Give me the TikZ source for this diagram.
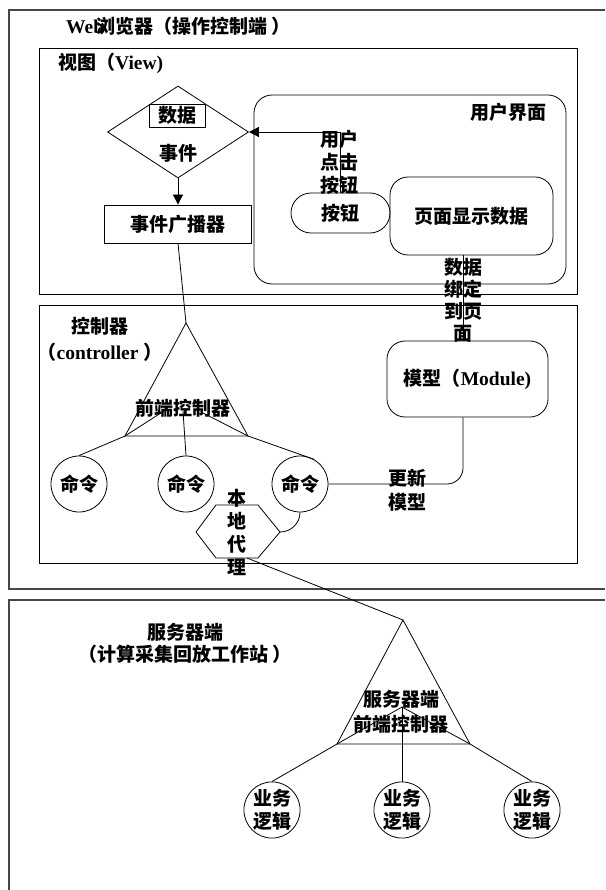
\documentclass[tikz,border=0pt]{standalone}
\usepackage{fontspec}
\newfontfamily\cjk{Noto Sans CJK SC}
\newfontfamily\lat{Liberation Serif}
\newcommand\latx[1]{{\lat\fontsize{19.5}{23}\selectfont #1}}
\usetikzlibrary{shapes.geometric,arrows.meta}
\begin{document}
\begin{tikzpicture}[x=1pt,y=-1pt,
 every node/.style={font=\cjk\bfseries\fontsize{19}{23}\selectfont, inner sep=0pt},
 ln/.style={draw=black, line width=0.8pt},
 outer/.style={draw=gray!55!black, line width=1.4pt},
 txt/.style={align=center},
 box/.style={draw, line width=0.8pt},
 rbox/.style={draw, line width=0.8pt, rounded corners=18pt},
 cmdc/.style={draw, circle, line width=0.8pt, minimum size=56pt},
 arr/.style={-{Triangle[length=10pt,width=10pt]}, line width=0.8pt}
]
\useasboundingbox (0,0) rectangle (605,890);
\fill[white] (0,0) rectangle (605,890);

% outer frames
\draw[outer] (605,10) -- (9,10) -- (9,589) -- (605,589);
\draw[outer] (605,600) -- (9,600) -- (9,890);
\node[anchor=west] (title) at (66,26) {\latx{Web}\kern-8pt 浏览器（操作控制端 ）};

% view
\node[box, minimum width=538pt, minimum height=246pt] (view) at (308,171) {};
\node[anchor=west] (viewlbl) at (58,63) {视图（\latx{View)}};
\node[rbox, minimum width=312pt, minimum height=189pt] (ui) at (410,189.5) {};
\node[anchor=east] (uilbl) at (547,112) {用户界面};
\node[rbox, rounded corners=20pt, minimum width=99pt, minimum height=40pt] (btn) at (340.5,213) {按钮};
\node[rbox, minimum width=163pt, minimum height=78pt] (page) at (471.5,216) {页面显示数据};

\node[draw, diamond, line width=0.8pt, minimum width=141pt, minimum height=92pt] (dia) at (178,132) {};
\node[box, minimum width=56pt, minimum height=23pt] (data) at (177,115.5) {数据};
\node (evt) at (178,153) {事件};
\node[box, minimum width=147pt, minimum height=38pt] (bcast) at (178,224) {事件广播器};

\draw[arr] (dia.south) -- (bcast.north);
\draw[arr] (btn.north) |- (dia.east);
\node[txt] (clk) at (339,162) {用户\\点击\\按钮};

% controller
\node[box, minimum width=538pt, minimum height=258pt] (ctrl) at (308,434) {};
\node (ctrllbl) at (100,326) {控制器};
\node (ctrllbl2) at (100,352) {（\latx{controller }）};

\node[rbox, minimum width=161pt, minimum height=76pt] (model) at (467.5,379) {模型（\latx{Module)}};
\coordinate (pb) at ([xshift=-8.5pt]page.south);
\draw[ln] (pb) -- (pb |- model.north);
\node[txt, font=\cjk\bfseries\fontsize{19}{22}\selectfont] (bind) at (463,300) {数据\\绑定\\到页\\面};

\node[cmdc] (cmd1) at (79,484) {命令};
\node[cmdc] (cmd2) at (186,484) {命令};
\node[cmdc] (cmd3) at (300,484) {命令};

\draw[ln, rounded corners=16pt] ([xshift=-4.5pt]model.south) |- (cmd3.east);
\node[txt, font=\cjk\bfseries\fontsize{19}{24}\selectfont] (upd) at (407,490) {更新\\模型};

\coordinate (t1a) at (186,323);
\coordinate (t1l) at (125,436);
\coordinate (t1r) at (248,436);
\coordinate (t1hl) at (164,411);
\coordinate (t1hc) at (183,411);
\coordinate (t1hr) at (203,413);
\draw[ln] (t1a) -- (t1l) -- (t1r) -- cycle;
\draw[ln] (bcast.south) -- (t1a);
\draw[ln] (t1hl) -- (t1l) -- (cmd1.north);
\draw[ln] (t1hc) -- (cmd2.north);
\draw[ln] (t1hr) -- (t1r) -- (cmd3.60);
\node (fc1) at (183,408) {前端控制器};

% local proxy hexagon
\coordinate (h1) at (216,505);
\coordinate (h2) at (258,505);
\coordinate (h3) at (280,532);
\coordinate (h4) at (258,558);
\coordinate (h5) at (216,558);
\coordinate (h6) at (196,532);
\draw[ln] (h1) -- (h2) -- (h3) -- (h4) -- (h5) -- (h6) -- cycle;
\node[txt] (proxy) at (237,532.5) {本\\地\\代\\理};
\draw[ln] (cmd3.south) to[out=-90,in=0] (h3);

% server
\node[txt, font=\cjk\bfseries\fontsize{19}{22}\selectfont] (srvlbl) at (185,643) {服务器端\\（计算采集回放工作站 ）};
\coordinate (t2a) at (403,620);
\coordinate (t2l) at (337,744);
\coordinate (t2r) at (470,744);
\coordinate (t2h) at (402,707);
\coordinate (hb) at (247,558);
\draw[ln] (hb) -- (t2a);
\draw[ln] (t2a) -- (t2l) -- (t2r) -- cycle;

\node[cmdc, txt] (biz1) at (272,810) {业务\\逻辑};
\node[cmdc, txt] (biz2) at (402,810) {业务\\逻辑};
\node[cmdc, txt] (biz3) at (532,810) {业务\\逻辑};
\draw[ln] (t2h) -- (t2l) -- (biz1.north);
\draw[ln] (t2h) -- (biz2.north);
\draw[ln] (t2h) -- (t2r) -- (biz3.north);
\node[txt, font=\cjk\bfseries\fontsize{19}{25}\selectfont] (fc2) at (401,712) {服务器端\\前端控制器};
\end{tikzpicture}
\end{document}
